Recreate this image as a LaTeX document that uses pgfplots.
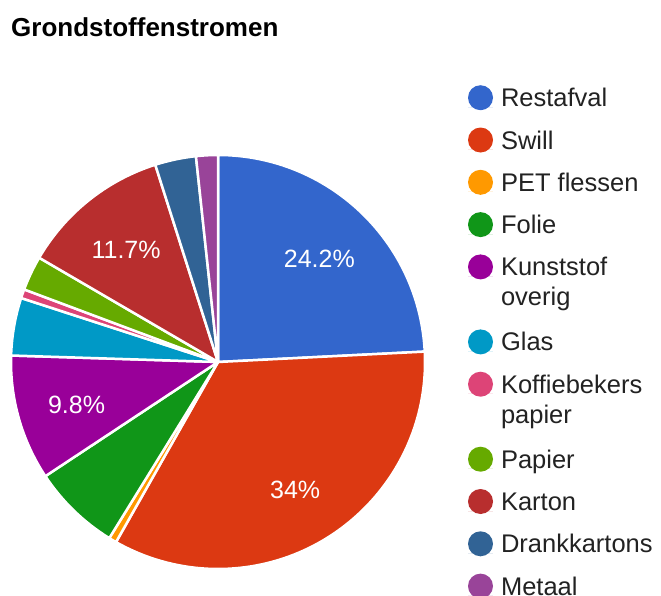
\documentclass[border=0pt]{standalone}
\usepackage{pgfplots}
\pgfplotsset{compat=1.18}
\usepackage{pgfplotstable}
\usepackage{fontspec}
\setmainfont{Liberation Sans}
\definecolor{cA}{HTML}{3366CC}
\definecolor{cB}{HTML}{DC3912}
\definecolor{cC}{HTML}{FF9900}
\definecolor{cD}{HTML}{109618}
\definecolor{cE}{HTML}{990099}
\definecolor{cF}{HTML}{0099C6}
\definecolor{cG}{HTML}{DD4477}
\definecolor{cH}{HTML}{66AA00}
\definecolor{cI}{HTML}{B82E2E}
\definecolor{cJ}{HTML}{316395}
\definecolor{cK}{HTML}{994499}
\definecolor{legtext}{HTML}{222222}
\newcommand\legfont{\fontsize{25.5}{30}\selectfont}
\newcommand\titlefont{\bfseries\fontsize{26}{30}\selectfont}
\newcommand\pielabelfont{\fontsize{25}{30}\selectfont}

\pgfplotstableread[col sep=comma]{
name,value,color
Restafval,24.2,cA
Swill,34,cB
PET flessen,0.6,cC
Folie,6.9,cD
Kunststof overig,9.8,cE
Glas,4.5,cF
Koffiebekers papier,0.7,cG
Papier,2.7,cH
Karton,11.7,cI
Drankkartons,3.2,cJ
Metaal,1.7,cK
}\piedata
\pgfplotstablegetrowsof{\piedata}
\pgfmathtruncatemacro\lastrow{\pgfplotsretval-1}

\begin{document}
\begin{tikzpicture}
\begin{axis}[
  at={(0pt,0pt)}, anchor=south west,
  x=1pt, y=1pt, xmin=0, xmax=661, ymin=0, ymax=595,
  hide axis, clip=false,
  legend image code/.code={\path (0pt,0pt) rectangle (25pt,0pt); \path[overlay, fill, draw=none] (12.5pt,9pt) circle[radius=12.5pt];},
  legend style={at={(0.70802,0.87109)}, anchor=north west, draw=none, fill=none,
    inner sep=0pt, outer sep=0pt, row sep=0pt, column sep=8pt,
    cells={anchor=base west},
    nodes={inner sep=0pt, text height=30pt, text depth=12.3pt, font=\legfont, text=legtext}},
]
\def\aStart{90}
\pgfplotsforeachungrouped \i in {0,...,\lastrow}{%
  \pgfplotstablegetelem{\i}{value}\of\piedata \let\v\pgfplotsretval
  \pgfplotstablegetelem{\i}{color}\of\piedata \let\c\pgfplotsretval
  \pgfmathsetmacro\aEnd{\aStart-3.6*\v}%
  \pgfmathsetmacro\aMid{(\aStart+\aEnd)/2}%
  \edef\temp{\noexpand\fill[\c, draw=white, line width=2.5pt, line join=round] (axis cs:218,233) -- ++(\aStart:207pt) arc[start angle=\aStart, end angle=\aEnd, radius=207pt] -- cycle;}%
  \temp
  \pgfmathtruncatemacro\showlabel{\v>=9}%
  \ifnum\showlabel=1
    \edef\temp{\noexpand\path (axis cs:218,230) ++(\aMid:147pt) node[text=white, inner sep=0pt, font=\noexpand\pielabelfont] {\v\noexpand\%};}%
    \temp
  \fi
  \let\aStart\aEnd
}
\node[anchor=base west, inner sep=0pt, font=\titlefont] at (axis cs:11,558) {Grondstoffenstromen};

\addlegendimage{fill=cA, draw=none}\addlegendentry{Restafval}
\addlegendimage{fill=cB, draw=none}\addlegendentry{Swill}
\addlegendimage{fill=cC, draw=none}\addlegendentry{PET flessen}
\addlegendimage{fill=cD, draw=none}\addlegendentry{Folie}
\addlegendimage{fill=cE, draw=none}\addlegendentry[text depth=0pt]{Kunststof}
\addlegendimage{empty legend}\addlegendentry[text depth=15pt]{overig}
\addlegendimage{fill=cF, draw=none}\addlegendentry{Glas}
\addlegendimage{fill=cG, draw=none}\addlegendentry[text depth=0pt]{Koffiebekers}
\addlegendimage{empty legend}\addlegendentry[text depth=15pt]{papier}
\addlegendimage{fill=cH, draw=none}\addlegendentry{Papier}
\addlegendimage{fill=cI, draw=none}\addlegendentry{Karton}
\addlegendimage{fill=cJ, draw=none}\addlegendentry{Drankkartons}
\addlegendimage{fill=cK, draw=none}\addlegendentry{Metaal}
\end{axis}
\pgfresetboundingbox
\useasboundingbox (0,0) rectangle (661pt,595pt);
\end{tikzpicture}
\end{document}
